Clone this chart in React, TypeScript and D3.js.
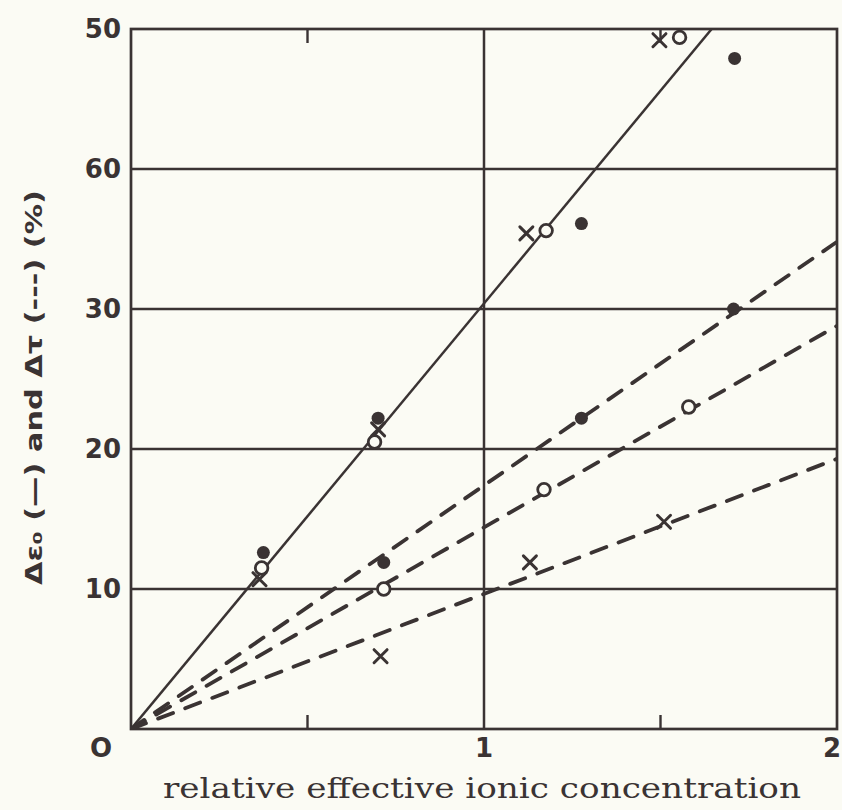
import React from "react";
import * as d3 from "d3";

// Axis ticks and labels
const xTickValues = [0, 1, 2];
const xTickLabels = ["O", "1", "2"];
const xMinorTicks = [0.5, 1.5];
const yGridValues = [10, 20, 30, 40];
const yTickValues = [10, 20, 30, 40, 50];
const yTickLabels = ["10", "20", "30", "60", "50"];

// Δε₀ measurements (solid fit)
const epsFilled = [
  { x: 0.375, y: 12.6 },
  { x: 0.7, y: 22.2 },
  { x: 1.276, y: 36.1 },
  { x: 1.71, y: 47.9 },
];
const epsOpen = [
  { x: 0.37, y: 11.5 },
  { x: 0.69, y: 20.5 },
  { x: 1.176, y: 35.6 },
  { x: 1.554, y: 49.4 },
];
const epsCross = [
  { x: 0.364, y: 10.7 },
  { x: 0.7, y: 21.4 },
  { x: 1.12, y: 35.4 },
  { x: 1.497, y: 49.2 },
];

// Δτ measurements (dashed fits)
const tauFilled = [
  { x: 0.716, y: 11.9 },
  { x: 1.276, y: 22.2 },
  { x: 1.707, y: 30.0 },
];
const tauOpen = [
  { x: 0.716, y: 10.0 },
  { x: 1.17, y: 17.1 },
  { x: 1.58, y: 23.0 },
];
const tauCross = [
  { x: 0.707, y: 5.2 },
  { x: 1.13, y: 11.9 },
  { x: 1.51, y: 14.8 },
];

// Fitted straight lines through the origin
const epsFit = [
  { x: 0, y: 0 },
  { x: 1.645, y: 50 },
];
const tauFilledFit = [
  { x: 0, y: 0 },
  { x: 2, y: 34.8 },
];
const tauOpenFit = [
  { x: 0, y: 0 },
  { x: 2, y: 28.8 },
];
const tauCrossFit = [
  { x: 0, y: 0 },
  { x: 2, y: 19.3 },
];

const W = 842;
const H = 810;
const INK = "#3a3333";
const PAPER = "#fbfbf4";

export default function App() {
  const x = d3.scaleLinear().domain([0, 2]).range([131, 837]);
  const y = d3.scaleLinear().domain([0, 50]).range([729, 29]);
  const line = d3
    .line<{ x: number; y: number }>()
    .x((d) => x(d.x))
    .y((d) => y(d.y));

  const dot = (pts: { x: number; y: number }[], key: string) =>
    pts.map((p, i) => (
      <circle key={key + i} cx={x(p.x)} cy={y(p.y)} r={6.5} fill={INK} />
    ));
  const ring = (pts: { x: number; y: number }[], key: string) =>
    pts.map((p, i) => (
      <circle
        key={key + i}
        cx={x(p.x)}
        cy={y(p.y)}
        r={6.3}
        fill={PAPER}
        stroke={INK}
        strokeWidth={2.8}
      />
    ));
  const cross = (pts: { x: number; y: number }[], key: string) =>
    pts.map((p, i) => {
      const cx = x(p.x);
      const cy = y(p.y);
      const s = 6.5;
      return (
        <path
          key={key + i}
          d={`M${cx - s},${cy - s}L${cx + s},${cy + s}M${cx + s},${cy - s}L${cx - s},${cy + s}`}
          stroke={INK}
          strokeWidth={3}
          strokeLinecap="round"
          fill="none"
        />
      );
    });

  const dashed = {
    stroke: INK,
    strokeWidth: 3.8,
    strokeDasharray: "16 13",
    strokeLinecap: "round" as const,
    fill: "none",
  };

  return (
    <div style={{ position: "absolute", left: 0, top: 0 }}>
      <svg width={W} height={H} style={{ display: "block", background: PAPER }}>
        <rect width={W} height={H} fill={PAPER} />
        <defs>
          <clipPath id="plot">
            <rect x={x(0)} y={y(50)} width={x(2) - x(0)} height={y(0) - y(50)} />
          </clipPath>
        </defs>

        {/* grid */}
        {yGridValues.map((v) => (
          <line key={"g" + v} x1={x(0)} x2={x(2)} y1={y(v)} y2={y(v)} stroke={INK} strokeWidth={2.5} />
        ))}
        <line x1={x(1)} x2={x(1)} y1={y(0)} y2={y(50)} stroke={INK} strokeWidth={2.5} />

        {/* frame */}
        <rect
          x={x(0)}
          y={y(50)}
          width={x(2) - x(0)}
          height={y(0) - y(50)}
          fill="none"
          stroke={INK}
          strokeWidth={2.7}
        />
        {xMinorTicks.map((v) => (
          <g key={"m" + v}>
            <line x1={x(v)} x2={x(v)} y1={y(0)} y2={y(0) - 14} stroke={INK} strokeWidth={2.4} />
            <line x1={x(v)} x2={x(v)} y1={y(50)} y2={y(50) + 14} stroke={INK} strokeWidth={2.4} />
          </g>
        ))}

        {/* fitted lines */}
        <g clipPath="url(#plot)">
          <path d={line(epsFit) || ""} stroke={INK} strokeWidth={2.5} fill="none" />
          <path d={line(tauFilledFit) || ""} {...dashed} />
          <path d={line(tauOpenFit) || ""} {...dashed} />
          <path d={line(tauCrossFit) || ""} {...dashed} />
        </g>

        {/* markers */}
        {ring(epsOpen, "eo")}
        {cross(epsCross, "ec")}
        {dot(epsFilled, "ef")}
        {dot(tauFilled, "tf")}
        {ring(tauOpen, "to")}
        {cross(tauCross, "tc")}

        {/* y tick labels */}
        <g fontFamily="DejaVu Sans" fontWeight="bold" fontSize={26} fill={INK} textAnchor="end">
          {yTickValues.map((v, i) => (
            <text key={"yt" + v} x={121} y={y(v)} dy="0.36em">
              {yTickLabels[i]}
            </text>
          ))}
        </g>

        {/* x tick labels */}
        <g fontFamily="DejaVu Sans" fontWeight="bold" fontSize={26} fill={INK}>
          {xTickValues.map((v, i) => (
            <text
              key={"xt" + v}
              x={i === 0 ? 101 : i === 2 ? 841 : x(v)}
              y={757}
              textAnchor={i === 2 ? "end" : "middle"}
            >
              {xTickLabels[i]}
            </text>
          ))}
        </g>

        {/* axis titles */}
        <text
          x={163}
          y={798}
          fontFamily="DejaVu Serif"
          fontSize={27}
          fill={INK}
          textLength={638}
          lengthAdjust="spacingAndGlyphs"
        >
          relative effective ionic concentration
        </text>
        <text
          transform="translate(42,585) rotate(-90)"
          fontFamily="DejaVu Sans"
          fontWeight="bold"
          fontSize={23}
          fill={INK}
          textLength={395}
          lengthAdjust="spacingAndGlyphs"
        >
          Δε₀ (—) and Δτ (---) (%)
        </text>
      </svg>
    </div>
  );
}
